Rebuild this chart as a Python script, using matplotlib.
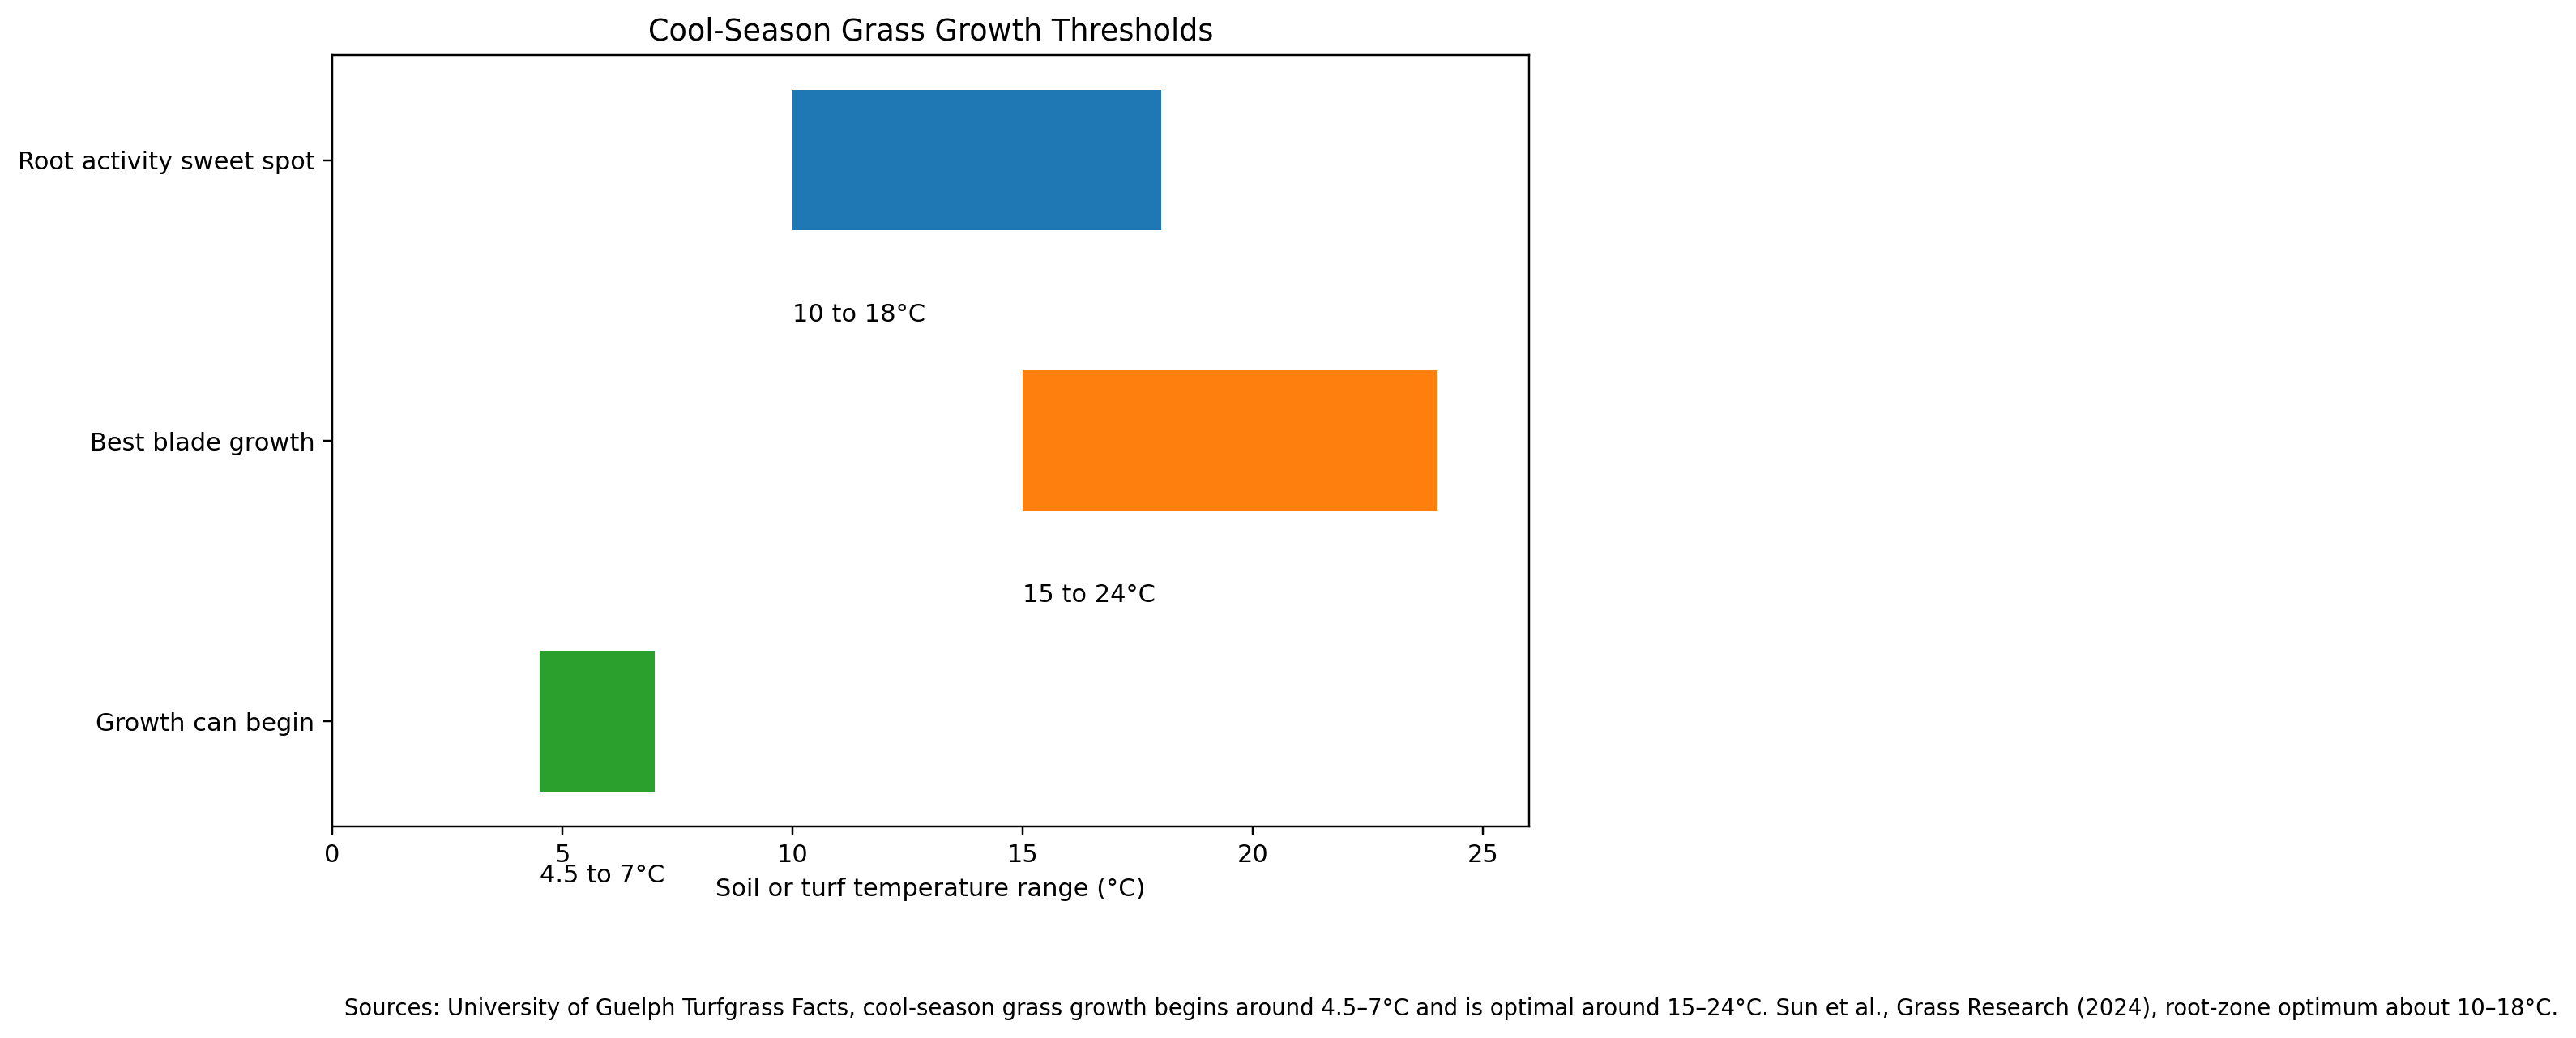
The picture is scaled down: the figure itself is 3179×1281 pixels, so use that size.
import matplotlib.pyplot as plt

# data
stages = ["Root activity sweet spot", "Best blade growth", "Growth can begin"]
low_c = [10, 15, 4.5]
high_c = [18, 24, 7]
range_labels = ["10 to 18°C", "15 to 24°C", "4.5 to 7°C"]
colors = ["#1f77b4", "#ff7f0e", "#2ca02c"]
source = ("Sources: University of Guelph Turfgrass Facts, cool-season grass growth begins around "
          "4.5–7°C and is optimal around 15–24°C. Sun et al., Grass Research (2024), "
          "root-zone optimum about 10–18°C.")

DPI = 220
fig = plt.figure(figsize=(3179 / DPI, 1281 / DPI), dpi=DPI)
ax = fig.add_axes([410 / 3179, 1 - 1020 / 1281, (1887 - 410) / 3179, (1020 - 68) / 1281])

for i, (name, lo, hi, lab, c) in enumerate(zip(stages, low_c, high_c, range_labels, colors)):
    ax.barh(i, hi - lo, left=lo, height=0.5, color=c)
    ax.text(lo, i + 0.55, lab, va="center", ha="left", fontsize=10)

ax.set_yticks(range(len(stages)))
ax.set_yticklabels(stages)
ax.set_ylim(len(stages) - 1 + 0.375, -0.375)
ax.set_xlim(0, 26)
ax.set_xlabel("Soil or turf temperature range (°C)")
ax.set_title("Cool-Season Grass Growth Thresholds")

fig.text(425 / 3179, 1 - 1253 / 1281, source, fontsize=9, ha="left", va="baseline")

fig.savefig("out.png", dpi=DPI)
